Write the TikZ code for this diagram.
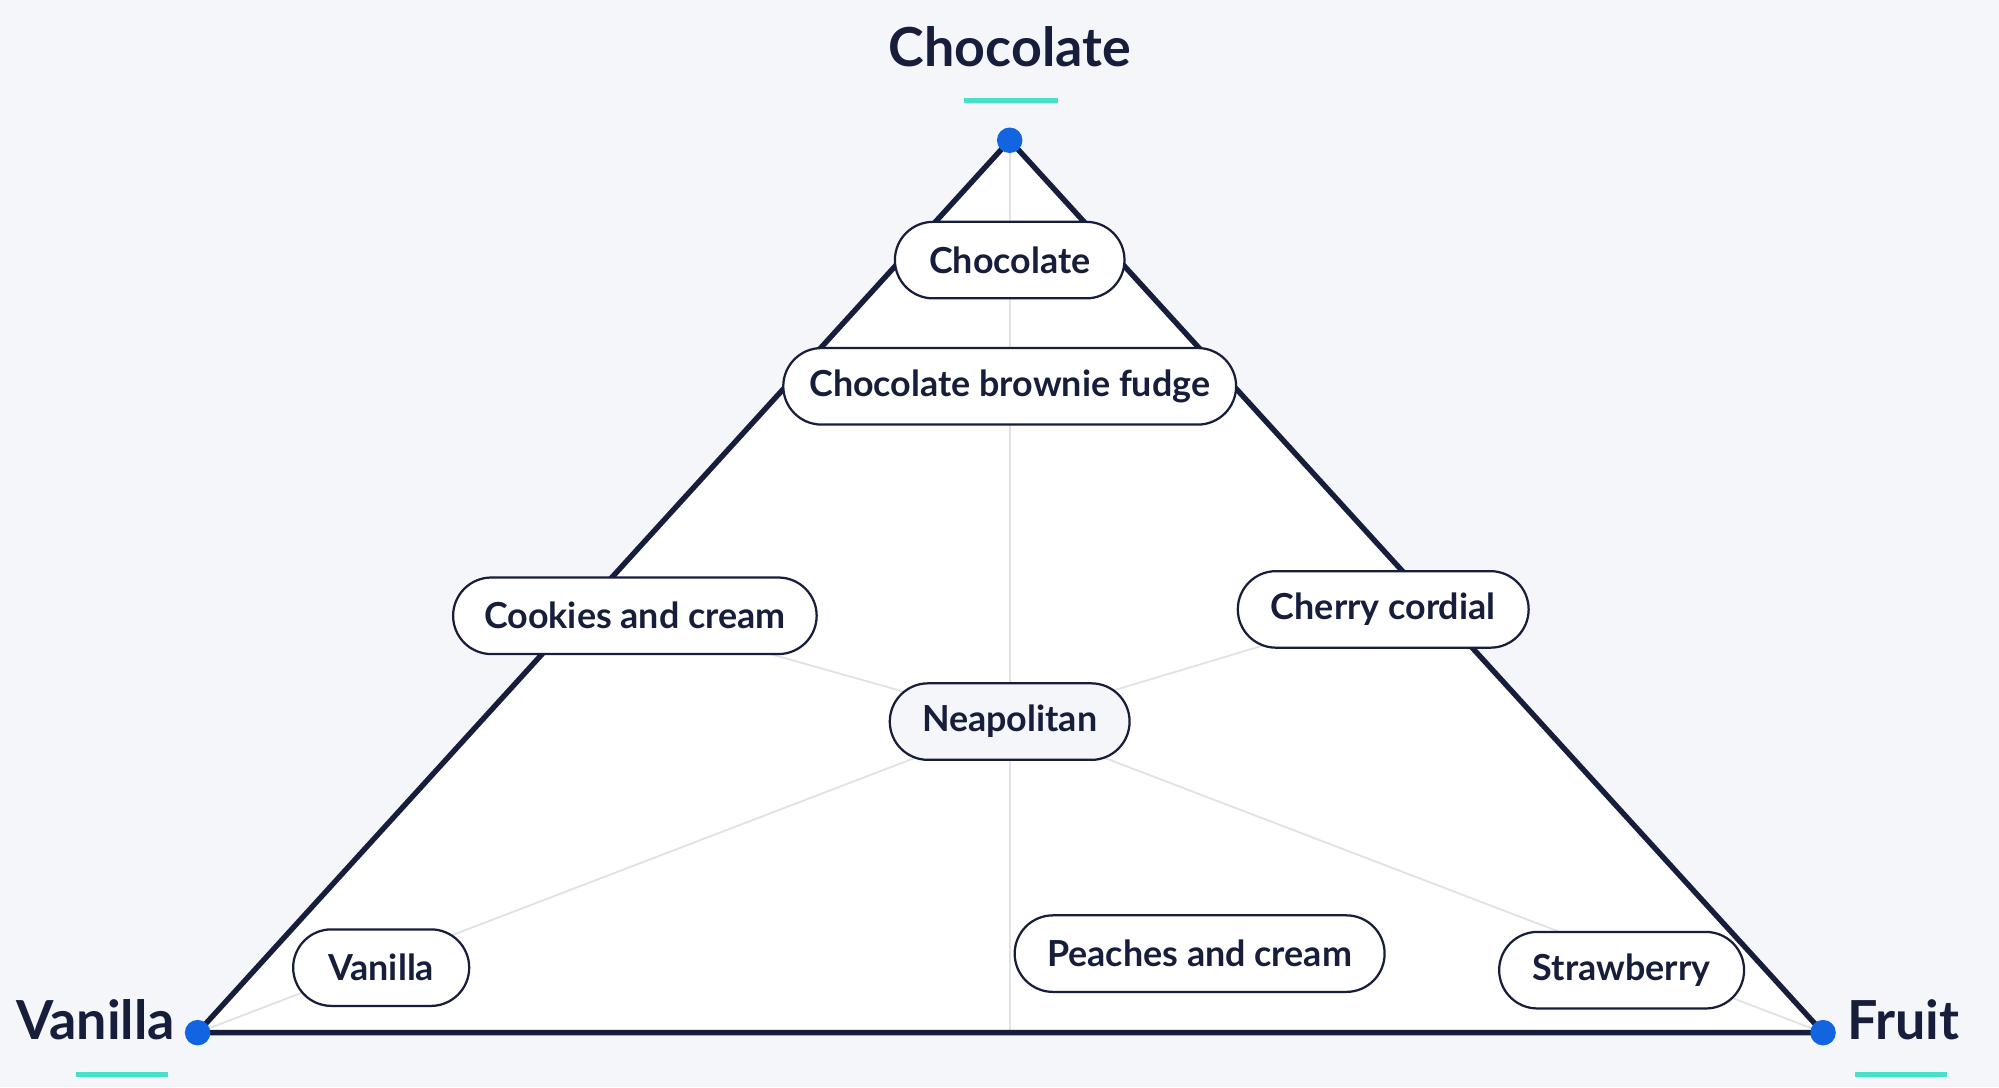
\documentclass[tikz,border=0pt]{standalone}
\usepackage{fontspec}
\setmainfont{Lato}
\usetikzlibrary{positioning}
\definecolor{InkColor}{RGB}{22,30,60}
\definecolor{PageColor}{RGB}{245,246,250}
\definecolor{DotColor}{RGB}{18,100,225}
\definecolor{TealColor}{RGB}{70,225,200}
\definecolor{GridColor}{RGB}{225,226,230}
\tikzset{
  flavour/.style={draw=InkColor, fill=white, rounded corners=0.3cm, minimum height=0.6cm,
    inner sep=0pt, line width=0.5pt, font=\fontsize{8}{10}\selectfont\bfseries, text=InkColor},
  corner/.style={circle, fill=DotColor, inner sep=0pt, minimum size=0.2cm},
  title/.style={font=\fontsize{12}{14}\selectfont\bfseries, text=InkColor},
  underline/.style={TealColor, line width=1.2pt},
  guide/.style={GridColor, thin}
}
\begin{document}
\begin{tikzpicture}[x=0.01cm, y=-0.01cm]
\fill[PageColor] (0,0) rectangle (1568,853);
\useasboundingbox (0,0) rectangle (1568,853);

% Corners
\coordinate (top) at (792,110);
\coordinate (left) at (155,810);
\coordinate (right) at (1430,810);
\coordinate (base) at (792,810);
\fill[white] (top) -- (left) -- (right) -- cycle;

% Guide lines
\coordinate (mid) at (792,566);
\draw[guide] (top) -- (base);
\draw[guide] (left) -- (mid) -- (right);
\draw[guide] (498,483) -- (mid) -- (1085,478);

\draw[InkColor, line width=1.2pt, line join=round] (top) -- (left) -- (right) -- cycle;

% Flavours
\node[flavour, minimum width=1.8cm] (choc) at (792,204) {Chocolate};
\node[flavour, minimum width=3.55cm] (fudge) at (792,303) {Chocolate brownie fudge};
\node[flavour, minimum width=2.85cm] (cookies) at (498,483) {Cookies and cream};
\node[flavour, minimum width=2.28cm] (cherry) at (1085,478) {Cherry cordial};
\node[flavour, minimum width=1.88cm, fill=PageColor] (neapolitan) at (mid) {Neapolitan};
\node[flavour, minimum width=1.38cm] (vanilla) at (299,759) {Vanilla};
\node[flavour, minimum width=2.9cm] (peaches) at (941,748) {Peaches and cream};
\node[flavour, minimum width=1.92cm] (strawberry) at (1272,761) {Strawberry};

% Dots and titles
\foreach \c in {top, left, right} {
  \node[corner] at (\c) {};
}
\node[title] (tchoc) at (792,37) {Chocolate};
\draw[underline] (756,79) -- (830,79);
\node[title] (tvan) at (75,800) {Vanilla};
\draw[underline] (60,843) -- (132,843);
\node[title] (tfruit) at (1493,800) {Fruit};
\draw[underline] (1455,843) -- (1527,843);
\end{tikzpicture}
\end{document}
